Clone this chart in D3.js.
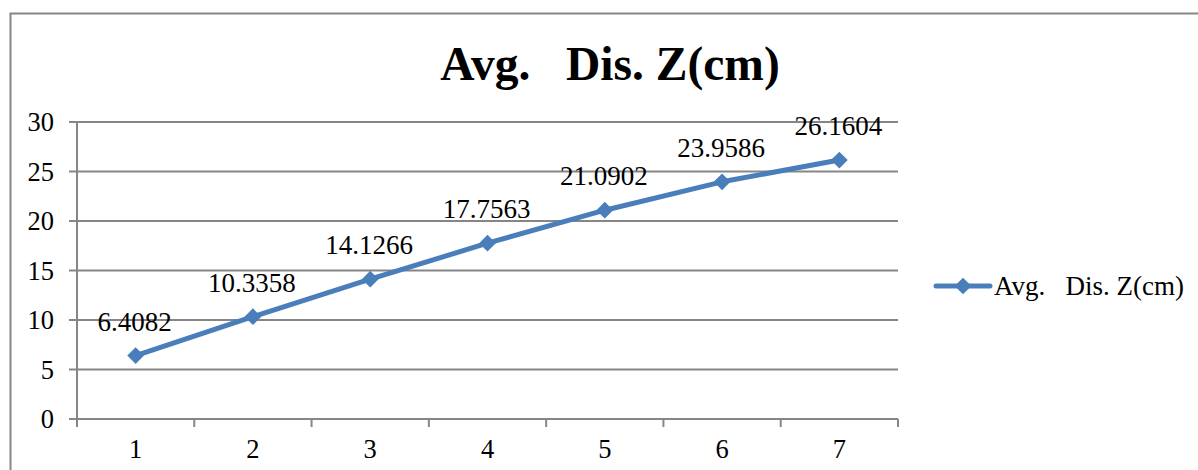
<!DOCTYPE html>
<html>
<head>
<meta charset="utf-8">
<script src="https://cdn.jsdelivr.net/npm/d3@7"></script>
<style>
  html, body { margin: 0; padding: 0; background: #fff; }
  svg { display: block; }
  text { font-family: "Liberation Serif", "Times New Roman", serif; fill: #000; white-space: pre; }
</style>
</head>
<body>
<script>
const categories = ["1", "2", "3", "4", "5", "6", "7"];
const values = [6.4082, 10.3358, 14.1266, 17.7563, 21.0902, 23.9586, 26.1604];
const yTicks = [0, 5, 10, 15, 20, 25, 30];
const seriesName = "Avg.   Dis. Z(cm)";
const title = "Avg.   Dis. Z(cm)";

const W = 1198, H = 470;
const svg = d3.select("body").append("svg").attr("width", W).attr("height", H);

const blue = "#4A7EBB";
const grid = "#868686";
const fs = 26.5;

// outer frame (left and top)
svg.append("path")
  .attr("d", `M10.5,${H} L10.5,13.5 L${W},13.5`)
  .attr("fill", "none").attr("stroke", grid).attr("stroke-width", 2);

const plot = { left: 77, right: 898, top: 122, bottom: 419 };

const x = d3.scaleBand().domain(categories).range([plot.left, plot.right]).padding(0);
const y = d3.scaleLinear().domain([0, 30]).range([plot.bottom, plot.top]);

// horizontal gridlines
svg.append("g").selectAll("line").data(yTicks).join("line")
  .attr("x1", plot.left - 8).attr("x2", plot.right)
  .attr("y1", d => y(d)).attr("y2", d => y(d))
  .attr("stroke", grid).attr("stroke-width", 2);

// y axis line
svg.append("line")
  .attr("x1", plot.left).attr("x2", plot.left)
  .attr("y1", plot.top).attr("y2", plot.bottom + 8)
  .attr("stroke", grid).attr("stroke-width", 2);

// x axis tick marks at band boundaries
const bounds = categories.map(c => x(c)).concat([plot.right]);
svg.append("g").selectAll("line").data(bounds).join("line")
  .attr("x1", d => d).attr("x2", d => d)
  .attr("y1", plot.bottom).attr("y2", plot.bottom + 8)
  .attr("stroke", grid).attr("stroke-width", 2);

// y labels
svg.append("g").selectAll("text").data(yTicks).join("text")
  .attr("x", 54).attr("y", d => y(d)).attr("dy", "0.35em")
  .attr("text-anchor", "end").attr("font-size", fs)
  .text(d => d);

// x labels
svg.append("g").selectAll("text").data(categories).join("text")
  .attr("x", d => x(d) + x.bandwidth() / 2).attr("y", 458)
  .attr("text-anchor", "middle").attr("font-size", fs)
  .text(d => d);

// title
svg.append("text")
  .attr("x", 610).attr("y", 80)
  .attr("text-anchor", "middle").attr("font-size", 47.5).attr("font-weight", "bold")
  .text(title);

// line
const pts = categories.map((c, i) => [x(c) + x.bandwidth() / 2, y(values[i])]);
svg.append("path")
  .attr("d", d3.line()(pts))
  .attr("fill", "none").attr("stroke", blue).attr("stroke-width", 5)
  .attr("stroke-linejoin", "round").attr("stroke-linecap", "round");

const diamond = d3.symbol().type(d3.symbolSquare).size(140);
svg.append("g").selectAll("path").data(pts).join("path")
  .attr("d", diamond)
  .attr("transform", d => `translate(${d[0]},${d[1]}) rotate(45)`)
  .attr("fill", blue);

// data labels
svg.append("g").selectAll("text").data(pts).join("text")
  .attr("x", d => d[0] - 1).attr("y", d => d[1] - 25)
  .attr("text-anchor", "middle").attr("font-size", fs + 0.5)
  .text((d, i) => values[i]);

// legend
const ly = 286;
svg.append("line").attr("x1", 936).attr("x2", 990).attr("y1", ly).attr("y2", ly)
  .attr("stroke", blue).attr("stroke-width", 5).attr("stroke-linecap", "round");
svg.append("path").attr("d", diamond)
  .attr("transform", `translate(963,${ly}) rotate(45)`).attr("fill", blue);
svg.append("text").attr("x", 994).attr("y", ly).attr("dy", "0.35em")
  .attr("font-size", fs + 0.5).text(seriesName);
</script>
</body>
</html>
